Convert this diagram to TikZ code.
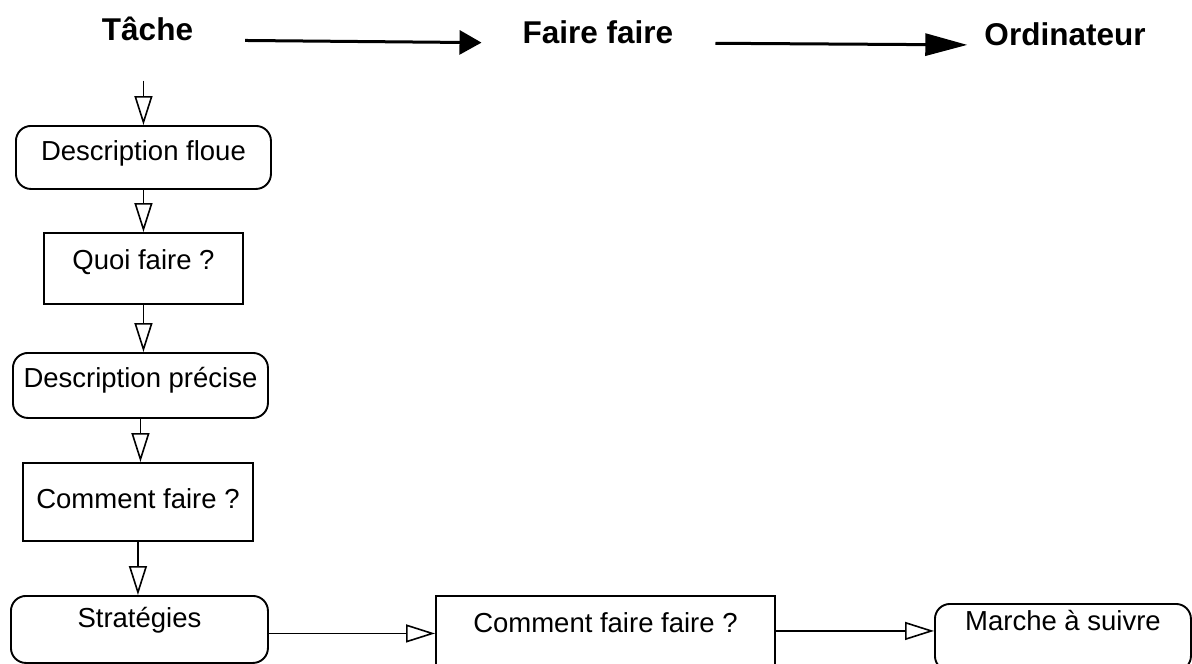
\documentclass[tikz,border=0pt]{standalone}
\usepackage{fontspec}
\setmainfont{Liberation Sans}
\usetikzlibrary{arrows.meta}
\tikzset{
  x=1pt, y=-1pt,
  title/.style={font=\fontsize{31.5}{36}\selectfont\bfseries, inner sep=0pt, anchor=base},
  boxbase/.style={draw, line width=1.9pt, inner xsep=0pt, inner ysep=0pt,
    anchor=north west, font=\fontsize{27.5}{32}\selectfont},
  roundbox/.style={boxbase, rounded corners=15pt},
  sqbox/.style={boxbase},
  flow/.style={line width=1.9pt, -{Triangle[open, length=29pt, width=18pt, line width=1.6pt]}},
  bigarrow/.style={line width=3pt, -{Triangle[length=#1]}},
}
\begin{document}
\begin{tikzpicture}
\useasboundingbox (0,0) rectangle (1192,664);
\clip (0,0) rectangle (1192,664);

% header line
\node[title] (tache)  at (147.5,40) {Tâche};
\node[title] (faire)  at (598,43)   {Faire faire};
\node[title] (ordi)   at (1065,45)  {Ordinateur};

\draw[bigarrow={22pt, width=24pt}, shorten <=52pt, shorten >=41pt]
  (tache.base east) -- (faire.base west);
\draw[bigarrow={42pt, width=22pt}, shorten <=42pt, shorten >=17pt]
  (faire.base east) -- (ordi.base west);

% vertical chain
\node[roundbox, minimum width=255pt, text height=35pt, text depth=28pt] (floue)   at (15,125)  {Description floue};
\node[sqbox,    minimum width=199pt, text height=37pt, text depth=34pt] (quoi)    at (43,232)  {Quoi faire ?};
\node[roundbox, minimum width=255pt, text height=35pt, text depth=30pt] (precise) at (12,352)  {Description précise};
\node[sqbox,    minimum width=230pt, text height=46pt, text depth=32pt] (comment) at (22,462)  {Comment faire ?};
\node[roundbox, minimum width=257pt, text height=32pt, text depth=35pt] (strat)   at (10,595)  {Stratégies};

% bottom row
\node[sqbox,    minimum width=339pt, text height=37pt, text depth=50pt] (cff)     at (435,595) {Comment faire faire ?};
\node[roundbox, minimum width=256pt, text height=27pt, text depth=40pt] (marche)  at (934,603) {Marche à suivre};

% connectors
\draw[flow, shorten <=40pt] (tache.south -| floue.north) -- (floue.north);
\draw[flow] (floue.south) -- (floue.south |- quoi.north);
\draw[flow] (quoi.south) -- (quoi.south |- precise.north);
\draw[flow] (precise.south) -- (precise.south |- comment.north);
\draw[flow] (comment.south) -- (comment.south |- strat.north);
\draw[flow] ([yshift=-4pt]strat.east) -- ([yshift=-4pt]strat.east -| cff.west);
\draw[flow] (cff.east |- marche.base) -- (marche.base west);
\end{tikzpicture}
\end{document}
